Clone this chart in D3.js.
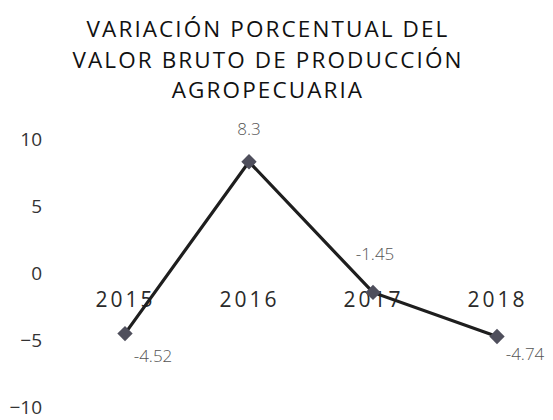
<!DOCTYPE html>
<html><head><meta charset="utf-8">
<script src="https://cdn.jsdelivr.net/npm/d3@7"></script>
<style>body{margin:0;background:#fff}</style>
</head><body>
<script>
const categories = ["2015","2016","2017","2018"];
const values = [-4.52, 8.3, -1.45, -4.74];
const valueLabels = ["-4.52","8.3","-1.45","-4.74"];
const yTicks = [10,5,0,-5,-10];
const titleLines = ["VARIACIÓN PORCENTUAL DEL","VALOR BRUTO DE PRODUCCIÓN","AGROPECUARIA"];

const W=553,H=420;
const svg=d3.select("body").append("svg").attr("width",W).attr("height",H);
const font="'Open Sans', sans-serif";

const x=d3.scalePoint().domain(categories).range([125,497]);
const y=d3.scaleLinear().domain([-10,10]).range([407,139]);

// title
svg.append("g").selectAll("text").data(titleLines).join("text")
  .attr("x",268).attr("y",(d,i)=>37+i*30.5)
  .attr("text-anchor","middle").attr("font-family",font)
  .attr("font-size",22.5).attr("letter-spacing",2.1).attr("fill","#111").text(d=>d);

// y axis
const yAxis=d3.axisLeft(y).tickValues(yTicks).tickSize(0).tickPadding(0).tickFormat(d3.format("d"));
const gy=svg.append("g").attr("transform","translate(42,0)").call(yAxis);
gy.select(".domain").remove();
gy.selectAll("text").attr("font-family",font).attr("font-size",19).attr("fill","#333").attr("dy","0.35em");

// x axis labels at zero line
const xAxis=d3.axisBottom(x).tickSize(0).tickPadding(19);
const gx=svg.append("g").attr("transform",`translate(0,${y(0)})`).call(xAxis);
gx.select(".domain").remove();
gx.selectAll("text").attr("font-family",font).attr("font-size",21).attr("letter-spacing",3).attr("fill","#2a2a2a");

// line
const line=d3.line().x((d,i)=>x(categories[i])).y(d=>y(d));
svg.append("path").datum(values).attr("d",line).attr("fill","none")
  .attr("stroke","#1e1e1e").attr("stroke-width",3.2);

// markers
svg.append("g").selectAll("path").data(values).join("path")
  .attr("d",d3.symbol().type(d3.symbolDiamond2).size(150))
  .attr("transform",(d,i)=>`translate(${x(categories[i])},${y(d)})`)
  .attr("fill","#4f4f5c");

// data labels
const offs=[[28,22],[0,-33],[2,-38],[28,18]];
svg.append("g").selectAll("text").data(values).join("text")
  .attr("x",(d,i)=>x(categories[i])+offs[i][0])
  .attr("y",(d,i)=>y(d)+offs[i][1])
  .attr("text-anchor","middle").attr("dy","0.35em")
  .attr("font-family",font).attr("font-size",17).attr("font-weight",300)
  .attr("fill","#555").text((d,i)=>valueLabels[i]);
</script>
</body></html>
